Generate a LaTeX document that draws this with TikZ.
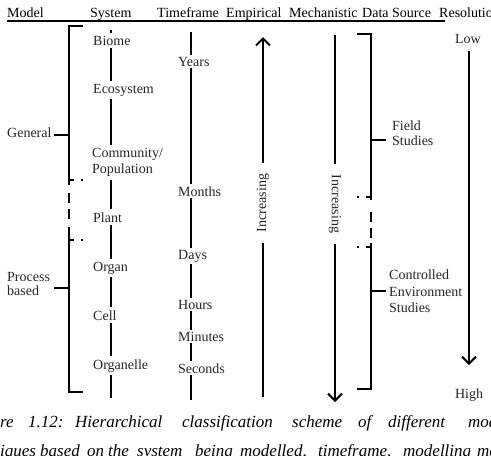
\documentclass[tikz,border=0pt]{standalone}
\usepackage{fontspec}
\setmainfont{Liberation Serif}
\usetikzlibrary{arrows.meta}

\begin{document}
\begin{tikzpicture}[x=1pt, y=-1pt, >={Straight Barb[length=7pt,width=14pt]},
	hdr/.style={anchor=base west, inner sep=0pt, font=\fontsize{14}{16}\selectfont},
	lbl/.style={anchor=base west, inner xsep=1pt, inner ysep=3pt, text=black!85, font=\fontsize{14}{16}\selectfont},
	tlbl/.style={lbl, inner ysep=2pt},
	side/.style={anchor=north west, inner sep=0pt, align=left, text=black!85},
	rot/.style={inner xsep=11pt, inner ysep=0pt, text=black!85, font=\fontsize{14}{16}\selectfont},
	bar/.style={line width=2pt},
	gapdash/.style={line width=2pt, dash pattern=on 10pt off 6pt},
	stub/.style={line width=2pt, dash pattern=on 5pt off 7pt on 2pt off 30pt},
	captxt/.style={anchor=base west, inner sep=0pt, font=\fontsize{17}{20}\selectfont\itshape}]
	
	\useasboundingbox (0,0) rectangle (491,456);
	
	% === HEADERS ===
	\foreach \xh/\txt [count=\k] in {7/Model, 90/System, 157/Timeframe, 226/Empirical,
		289/Mechanistic, 362/Data Source, 439/Resolution}
	\node[hdr] (hd\k) at (\xh,17) {\txt};
	\coordinate (ulEnd) at (445,21);
	\draw[line width=1.2pt] (hd1.west |- ulEnd) -- (ulEnd);
	
	% === MODEL: bracket General / Process based ===
	\node[hdr, text=black!85] (gen) at (7,137) {General};
	\node[side, font=\fontsize{14}{14}\selectfont] (proc) at (7,272) {Process\\based};
	\coordinate (genTick) at (69,135);
	\coordinate (procTick) at (69,288);
	\draw[bar] (83,26) -- (69,26) -- (69,185);
	\draw[gapdash] (69,193) -- (69,222);
	\draw[bar] (69,227) -- (69,392) -- (83,392);
	\draw[stub] (69,180) -- (84,180);
	\draw[stub] (69,240) -- (84,240);
	\draw[bar] (genTick) -- ++(-15,0);
	\draw[bar] (procTick) -- ++(-15,0);
	
	% === SYSTEM ===
	\coordinate (sysTop) at (111,30);
	\coordinate (sysBot) at (111,398);
	\node[lbl] (biome) at (92,45) {Biome};
	\node[lbl] (eco) at (92,93) {Ecosystem};
	\node[lbl, anchor=north west, align=left] (comm) at (91,145) {Community/\\Population};
	\node[lbl] (plant) at (92,222) {Plant};
	\node[lbl] (organ) at (92,271) {Organ};
	\node[lbl] (cell) at (92,320) {Cell};
	\node[lbl] (orgnl) at (92,369) {Organelle};
	\draw[bar] (sysTop) -- (biome.north -| sysTop);
	\foreach \a/\b in {biome/eco, eco/comm, comm/plant, plant/organ, organ/cell, cell/orgnl}
	\draw[bar] (\a.south -| sysTop) -- (\b.north -| sysTop);
	\draw[bar] (orgnl.south -| sysTop) -- (sysBot);
	
	% === TIMEFRAME ===
	\coordinate (tfTop) at (191,32);
	\coordinate (tfBot) at (191,400);
	\node[tlbl] (years) at (177,66) {Years};
	\node[tlbl] (months) at (177,196) {Months};
	\node[tlbl] (days) at (177,259) {Days};
	\node[tlbl] (hours) at (177,309) {Hours};
	\node[tlbl] (mins) at (177,341) {Minutes};
	\node[tlbl] (secs) at (177,373) {Seconds};
	\draw[bar] (tfTop) -- (years.north -| tfTop);
	\foreach \a/\b in {years/months, months/days, days/hours, hours/mins, mins/secs}
	\draw[bar] (\a.south -| tfTop) -- (\b.north -| tfTop);
	\draw[bar] (secs.south -| tfTop) -- (tfBot);
	
	% === EMPIRICAL (up) ===
	\coordinate (empTop) at (263,37);
	\coordinate (empBot) at (263,397);
	\node[rot, rotate=90] (empInc) at (263,203) {Increasing};
	\draw[bar] (empBot) -- (empInc.west);
	\draw[bar, ->] (empInc.east) -- (empTop);
	
	% === MECHANISTIC (down) ===
	\coordinate (mechTop) at (335,35);
	\coordinate (mechBot) at (335,402);
	\node[rot, rotate=-90, inner xsep=10.5pt] (mechInc) at (335,204) {Increasing};
	\draw[bar] (mechTop) -- (mechInc.west);
	\draw[bar, ->] (mechInc.east) -- (mechBot);
	
	% === DATA SOURCE: bracket ===
	\node[side, font=\fontsize{14}{15}\selectfont] (field) at (392,121) {Field\\Studies};
	\node[side, font=\fontsize{14}{16.5}\selectfont] (ctrl) at (389,270) {Controlled\\Environment\\Studies};
	\coordinate (fieldTick) at (371,140);
	\coordinate (ctrlTick) at (371,291);
	\draw[bar] (357,34) -- (371,34) -- (371,200);
	\draw[gapdash] (371,212) -- (371,238);
	\draw[bar] (371,243) -- (371,389) -- (357,389);
	\draw[stub] (371,197) -- (356,197);
	\draw[stub] (371,247) -- (356,247);
	\draw[bar] (fieldTick) -- ++(15,0);
	\draw[bar] (ctrlTick) -- ++(15,0);
	
	% === RESOLUTION ===
	\node[hdr, anchor=base, text=black!85] (low) at (468,43) {Low};
	\node[hdr, anchor=base, text=black!85] (high) at (469,398) {High};
	\coordinate (resTop) at (469,51);
	\coordinate (resBot) at (469,365);
	\draw[bar, ->] (resTop) -- (resBot);
	
	% === CAPTION (cut by the frame) ===
	\foreach \xw/\cw [count=\k] in {0/re, 28/1.12:, 75/Hierarchical, 182/classification,
		292/scheme, 358/of, 388/different, 468/mod}
	\node[captxt] (capw\k) at (\xw,427) {\cw};
	\foreach \xw/\cw [count=\k] in {0/iques, 40/based, 87/on, 108/the, 137/system, 195/being,
		240/{modelled,}, 318/{timeframe,}, 403/modelling, 477/me}
	\node[captxt] (capv\k) at (\xw,456.5) {\cw};
	
\end{tikzpicture}
\end{document}
